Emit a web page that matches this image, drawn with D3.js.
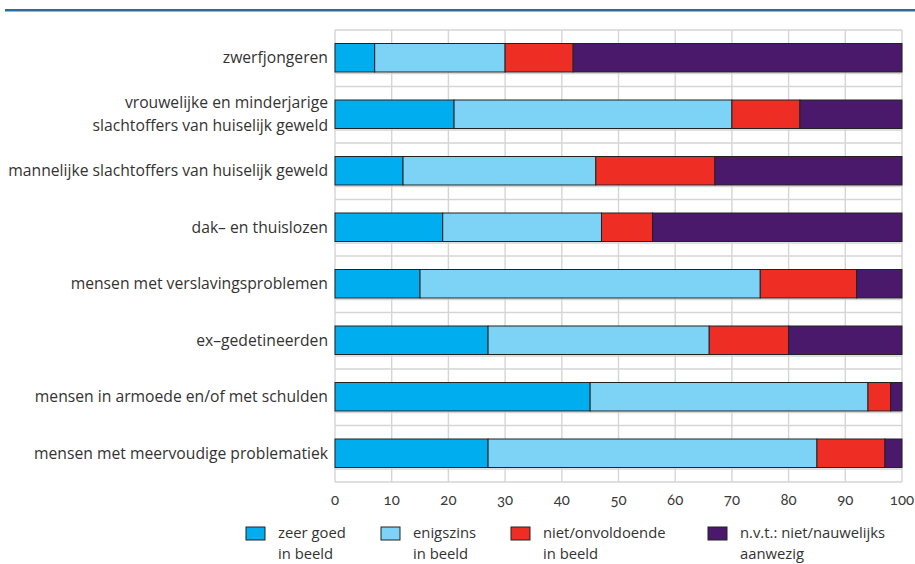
<!DOCTYPE html>
<html>
<head>
<meta charset="utf-8">
<script src="https://cdn.jsdelivr.net/npm/d3@7"></script>
<style>
  html, body { margin: 0; padding: 0; background: #fff; }
  svg { display: block; }
  text { font-family: "Open Sans", "Noto Sans", sans-serif; fill: #333; }
  .tick-label { font-family: "Lato", "Noto Sans", sans-serif; font-variant-numeric: oldstyle-nums; font-feature-settings: "onum" 1; fill: #3a3a3a; }
</style>
</head>
<body>
<svg id="chart" width="915" height="564"></svg>
<script>
// ---- data ----
const categories = [
  ["zwerfjongeren"],
  ["vrouwelijke en minderjarige", "slachtoffers van huiselijk geweld"],
  ["mannelijke slachtoffers van huiselijk geweld"],
  ["dak– en thuislozen"],
  ["mensen met verslavingsproblemen"],
  ["ex–gedetineerden"],
  ["mensen in armoede en/of met schulden"],
  ["mensen met meervoudige problematiek"]
];
const seriesNames = [
  ["zeer goed", "in beeld"],
  ["enigszins", "in beeld"],
  ["niet/onvoldoende", "in beeld"],
  ["n.v.t.: niet/nauwelijks", "aanwezig"]
];
const zeerGoed     = [7, 21, 12, 19, 15, 27, 45, 27];
const enigszins    = [23, 49, 34, 28, 60, 39, 49, 58];
const onvoldoende  = [12, 12, 21, 9, 17, 14, 4, 12];
const nvt          = [58, 18, 33, 44, 8, 20, 2, 3];
const tickValues   = [0, 10, 20, 30, 40, 50, 60, 70, 80, 90, 100];
const colors = ["#00aeef", "#7dd3f5", "#ee2e24", "#4a196b"];

const seriesValues = [zeerGoed, enigszins, onvoldoende, nvt];

// ---- layout ----
const svg = d3.select("#chart");
const plotL = 335, plotR = 902, plotT = 30, plotB = 482;

const x = d3.scaleLinear().domain([0, 100]).range([plotL, plotR]);
const idx = d3.range(categories.length);
const y = d3.scaleBand().domain(idx).range([plotT, plotB]).paddingInner(0).paddingOuter(0);
const barH = 28.5;
const barOff = (y.bandwidth() - barH) / 2 - 0.5;

// top rule
svg.append("rect").attr("x", 5).attr("y", 9).attr("width", 910).attr("height", 2).attr("fill", "#2f6a98");
svg.append("rect").attr("x", 5).attr("y", 11).attr("width", 910).attr("height", 1).attr("fill", "#8db8d8");

// grid
const grid = svg.append("g").attr("stroke", "#d5d5d5").attr("stroke-width", 1.4);
tickValues.forEach(t => {
  grid.append("line").attr("x1", x(t)).attr("x2", x(t)).attr("y1", plotT).attr("y2", plotB);
});
idx.forEach(i => {
  grid.append("line").attr("x1", plotL).attr("x2", plotR).attr("y1", y(i)).attr("y2", y(i));
  grid.append("line").attr("x1", plotL).attr("x2", plotR)
    .attr("y1", y(i) + barOff + barH + 1.5).attr("y2", y(i) + barOff + barH + 1.5);
});
grid.append("line").attr("x1", plotL).attr("x2", plotR).attr("y1", plotB).attr("y2", plotB);

// stacked bars
const rows = idx.map(i => {
  let acc = 0;
  return seriesValues.map((s, k) => {
    const seg = { i, k, x0: acc, x1: acc + s[i] };
    acc += s[i];
    return seg;
  });
});
svg.append("g").selectAll("g").data(rows).join("g")
  .selectAll("rect").data(d => d).join("rect")
  .attr("x", d => x(d.x0))
  .attr("y", d => y(d.i) + barOff)
  .attr("width", d => x(d.x1) - x(d.x0))
  .attr("height", barH)
  .attr("fill", d => colors[d.k])
  .attr("stroke", "#222")
  .attr("stroke-width", 1);

// category labels
const labels = svg.append("g");
categories.forEach((lines, i) => {
  const cy = y(i) + barOff + barH / 2;
  const lh = 23;
  lines.forEach((ln, j) => {
    labels.append("text")
      .attr("x", 328)
      .attr("text-anchor", "end")
      .attr("font-size", 15.7)
      .attr("y", cy + (j - (lines.length - 1) / 2) * lh)
      .attr("dy", "0.35em")
      .text(ln);
  });
});

// x tick labels
svg.append("g").selectAll("text").data(tickValues).join("text")
  .attr("class", "tick-label")
  .attr("x", d => x(d))
  .attr("y", 505)
  .attr("text-anchor", "middle")
  .attr("font-size", 15)
  .text(d => d);

// legend
const legendX = [246, 381, 511, 708];
const leg = svg.append("g");
seriesNames.forEach((nm, k) => {
  leg.append("rect")
    .attr("x", legendX[k]).attr("y", 527)
    .attr("width", 19).attr("height", 13)
    .attr("fill", colors[k]).attr("stroke", "#222").attr("stroke-width", 1);
  nm.forEach((ln, j) => {
    leg.append("text").attr("font-size", 14.8)
      .attr("x", legendX[k] + 32).attr("y", 538 + j * 20.5).text(ln);
  });
});
</script>
</body>
</html>
